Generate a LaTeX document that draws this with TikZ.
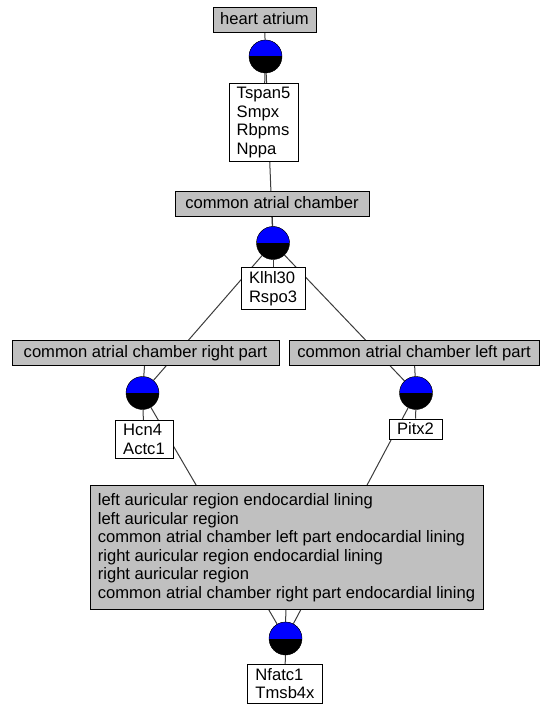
\documentclass[tikz,border=0pt]{standalone}
\usepackage{fontspec}
\setmainfont{Liberation Sans}
\usetikzlibrary{backgrounds}
\definecolor{termgray}{RGB}{192,192,192}
\definecolor{linkgray}{RGB}{60,60,60}

\begin{document}
\begin{tikzpicture}[x=1pt,y=-1pt,
  term/.style={draw=black, fill=termgray, inner xsep=0pt, minimum height=25pt, text height=12pt, text depth=3.5pt, font=\fontsize{16.6}{18.5}\selectfont},
  gene/.style={draw=black, fill=white, align=left, inner xsep=8pt, inner ysep=4pt, font=\fontsize{16.6}{18.5}\selectfont},
  hub/.style={circle, draw=black, fill=black, minimum size=33pt, inner sep=0pt,
    path picture={\fill[blue] (path picture bounding box.north west) rectangle (path picture bounding box.east);}},
  link/.style={draw=linkgray, line width=1pt}]
\useasboundingbox (0,0) rectangle (540,708);

% terms
\node[term, minimum width=103pt] (ha) at (264.5,20) {heart atrium};
\node[term, minimum width=194pt] (cac) at (272,204) {common atrial chamber};
\node[term, minimum width=267pt] (cacr) at (145.5,353) {common atrial chamber right part};
\node[term, minimum width=250pt] (cacl) at (414,353) {common atrial chamber left part};
\node[term, align=left, inner xsep=8pt, inner ysep=8pt, text height=, text depth=] (lining) at (286.5,547.5) {left auricular region endocardial lining\\
left auricular region\\
common atrial chamber left part endocardial lining\\
right auricular region endocardial lining\\
right auricular region\\
common atrial chamber right part endocardial lining};

% hubs
\node[hub] (h1) at (265.5,56.5) {};
\node[hub] (h2) at (273,243) {};
\node[hub] (h3) at (142.5,393) {};
\node[hub] (h4) at (416,393) {};
\node[hub] (h5) at (285.5,638.5) {};

% genes
\node[gene] (g1) at (263.5,122.5) {Tspan5\\Smpx\\Rbpms\\Nppa};
\node[gene] (g2) at (273,288.5) {Klhl30\\Rspo3};
\node[gene] (g3) at (144,439.5) {Hcn4\\Actc1};
\node[gene] (g4) at (415.5,429) {Pitx2};
\node[gene] (g5) at (285,683.5) {Nfatc1\\Tmsb4x};

\begin{scope}[on background layer]
\draw[link] (ha) -- (h1);
\draw[link] (h1) -- (g1);
\draw[link] (h1) -- (h2);
\draw[link] (cac) -- (h2);
\draw[link] (h2) -- (g2);
\draw[link] (h2) -- (h3);
\draw[link] (h2) -- (h4);
\draw[link] (cacr) -- (h3);
\draw[link] (cacl) -- (h4);
\draw[link] (h3) -- (g3);
\draw[link] (h4) -- (g4);
\draw[link] (h3) -- (h5);
\draw[link] (h4) -- (h5);
\draw[link] (lining) -- (h5);
\draw[link] (h5) -- (g5);
\end{scope}
\end{tikzpicture}
\end{document}
